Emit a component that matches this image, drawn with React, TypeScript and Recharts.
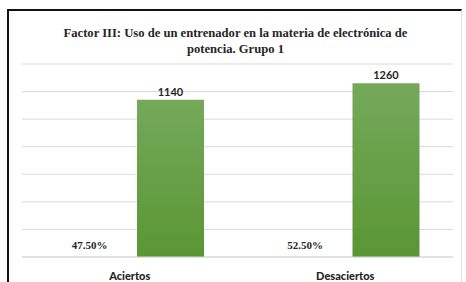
import { Bar, BarChart, CartesianGrid, LabelList, XAxis, YAxis } from "recharts";

const categories = ["Aciertos", "Desaciertos"];
const percentages = [0.475, 0.525];
const counts = [1140, 1260];
const yTicks = [0, 200, 400, 600, 800, 1000, 1200, 1400];

const data = categories.map((name, i) => ({
  name,
  pct: percentages[i],
  count: counts[i],
}));

const titleLines = [
  "Factor III: Uso de un entrenador en la materia de electrónica de",
  "potencia. Grupo 1",
];

const serif = "'Liberation Serif', 'Times New Roman', serif";
const sans = "Lato, 'Open Sans', sans-serif";

const CategoryTick = (props: any) => {
  const { x, y, payload } = props;
  return (
    <text
      x={x}
      y={y + 15}
      textAnchor="middle"
      fill="#262626"
      fontSize={11}
      fontWeight={900}
      fontFamily={sans}
    >
      {payload.value}
    </text>
  );
};

const App = () => {
  return (
    <div
      style={{
        position: "absolute",
        left: 0,
        top: 0,
        width: 466,
        height: 282,
        background: "#ffffff",
        overflow: "hidden",
      }}
    >
      <div
        style={{
          position: "absolute",
          left: 7,
          top: 9,
          width: 455,
          height: 290,
          borderTop: "2px solid #111",
          borderLeft: "2px solid #111",
          borderRight: "1px solid #e0e0e0",
          boxSizing: "border-box",
        }}
      />
      <div
        style={{
          position: "absolute",
          left: 0,
          top: 25,
          width: 471,
          textAlign: "center",
          fontFamily: serif,
          fontWeight: "bold",
          fontSize: 12.6,
          lineHeight: "16px",
          color: "#262626",
        }}
      >
        {titleLines.map((t) => (
          <div key={t}>{t}</div>
        ))}
      </div>
      <div style={{ position: "absolute", left: 0, top: 0 }}>
        <BarChart
          width={466}
          height={282}
          data={data}
          margin={{ top: 64, right: 13, left: 22, bottom: 0 }}
          barCategoryGap="15.6%"
          barGap={14}
        >
          <defs>
            <linearGradient id="greenFill" x1="0" y1="0" x2="0" y2="1">
              <stop offset="0%" stopColor="#74a95a" />
              <stop offset="100%" stopColor="#5a9634" />
            </linearGradient>
          </defs>
          <CartesianGrid vertical={false} stroke="#d9d9d9" />
          <XAxis
            dataKey="name"
            height={25}
            axisLine={{ stroke: "#d9d9d9" }}
            tickLine={false}
            tick={<CategoryTick />}
          />
          <YAxis hide domain={[0, 1400]} ticks={yTicks} />
          <Bar dataKey="pct" fill="url(#greenFill)" barSize={67} isAnimationActive={false}>
            <LabelList
              dataKey="pct"
              position="top"
              offset={8}
              formatter={(v: any) => (Number(v) * 100).toFixed(2) + "%"}
              fill="#262626"
              fontSize={11}
              fontWeight="bold"
              fontFamily={serif}
            />
          </Bar>
          <Bar dataKey="count" fill="url(#greenFill)" barSize={67} isAnimationActive={false}>
            <LabelList
              dataKey="count"
              position="top"
              offset={4}
              fill="#262626"
              fontSize={11}
              fontWeight="bold"
              fontFamily={sans}
            />
          </Bar>
        </BarChart>
      </div>
    </div>
  );
};

export default App;
